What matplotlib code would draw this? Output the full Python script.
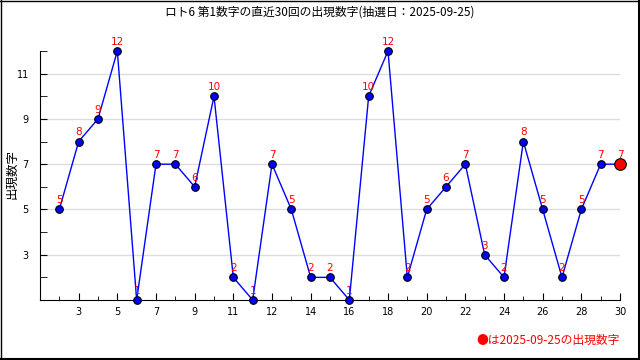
import matplotlib
matplotlib.use("Agg")
import matplotlib.pyplot as plt
from matplotlib.lines import Line2D

plt.rcParams['font.family'] = ['Noto Sans CJK JP', 'DejaVu Sans']

draws = list(range(1, 31))
values = [5, 8, 9, 12, 1, 7, 7, 6, 10, 2, 1, 7, 5, 2, 2, 1, 10, 12, 2, 5,
          6, 7, 3, 2, 8, 5, 2, 5, 7, 7]
xtick_pos = [2, 4, 6, 8, 10, 12, 14, 16, 18, 20, 22, 24, 26, 28, 30]
xtick_labels = ['3', '5', '7', '9', '11', '12', '14', '16', '18', '20', '22', '24', '26', '28', '30']
ytick_major = [3, 5, 7, 9, 11]
title = 'ロト6 第1数字の直近30回の出現数字(抽選日：2025-09-25)'
ylabel = '出現数字'
note = '●は2025-09-25の出現数字'

fig = plt.figure(figsize=(6.4, 3.6), dpi=100)
ax = fig.add_axes([40/640, 60/360, 580/640, 249/360])

ax.plot(draws, values, color='#0000ff', lw=1, zorder=3, clip_on=False)
ax.scatter(draws[:-1], values[:-1], s=30, color='#0000ff', edgecolor='black',
           linewidth=0.8, zorder=4, clip_on=False)
ax.scatter(draws[-1:], values[-1:], s=70, color='#ff0000', edgecolor='black',
           linewidth=0.8, zorder=5, clip_on=False)
for x, v in zip(draws, values):
    ax.annotate(str(v), (x, v), xytext=(0, 3), textcoords='offset points',
                ha='center', va='bottom', color='#ff0000', fontsize=7.5,
                family='DejaVu Sans', zorder=6, annotation_clip=False)

ax.set_xlim(0, 30)
ax.set_ylim(1, 12)
ax.set_xticks(xtick_pos)
ax.set_xticklabels(xtick_labels)
ax.set_xticks(draws, minor=True)
ax.set_yticks(ytick_major)
ax.set_yticks(range(1, 13), minor=True)
ax.tick_params(axis='both', which='both', direction='in', labelsize=7)
ax.tick_params(axis='x', which='major', length=5, pad=5)
ax.tick_params(axis='x', which='minor', length=3)
ax.tick_params(axis='y', which='major', length=5, pad=8)
ax.tick_params(axis='y', which='minor', length=5)
for lab in ax.get_xticklabels() + ax.get_yticklabels():
    lab.set_family('DejaVu Sans')
ax.grid(axis='y', which='major', color='#dddddd', lw=1)
ax.set_axisbelow(True)
ax.spines['top'].set_visible(False)
ax.spines['right'].set_visible(False)

fig.text(320/640, 1 - 12/360, title, ha='center', va='center', fontsize=8.5)
fig.text(12/640, 1 - 174/360, ylabel, ha='center', va='center', rotation=90, fontsize=9)
fig.text(620/640, 1 - 340/360, note, ha='right', va='center', fontsize=8.5, color='#ff0000')

# image border with heavier right/bottom edge
fig.add_artist(Line2D([0.5/640, 0.5/640], [0, 1], transform=fig.transFigure, color='black', lw=1))
fig.add_artist(Line2D([0, 1], [1 - 0.5/360, 1 - 0.5/360], transform=fig.transFigure, color='black', lw=1))
fig.add_artist(Line2D([1 - 1.5/640, 1 - 1.5/640], [0, 1], transform=fig.transFigure, color='black', lw=2.2))
fig.add_artist(Line2D([0, 1], [1/360, 1/360], transform=fig.transFigure, color='black', lw=1.5))

fig.savefig('out.png', dpi=100)
